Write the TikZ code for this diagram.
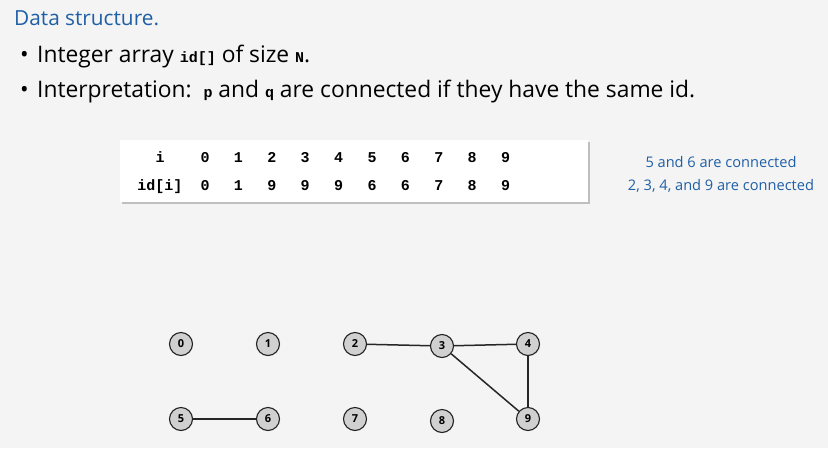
\documentclass[tikz,border=0pt]{standalone}
\usepackage{fontspec}
\setmainfont{Open Sans}
\setmonofont{Liberation Mono}
\usetikzlibrary{shadows,positioning}

\begin{document}
\begin{tikzpicture}[
    x=1pt, y=-1pt,
    every node/.style={inner sep=0pt},
  ]
    \definecolor{pagebg}{HTML}{F4F4F4}
    \definecolor{noteblue}{HTML}{1F5FA6}
    \definecolor{siteedge}{HTML}{222222}
    \definecolor{sitefill}{HTML}{D0D0D0}
    \tikzset{
      site/.style={circle, draw=siteedge, fill=sitefill, line width=1.1pt,
        minimum size=23pt, font=\bfseries\fontsize{11}{11}\selectfont},
      link/.style={line width=1.5pt, black!85},
      cell/.style={anchor=base, font=\ttfamily\bfseries\fontsize{15}{15}\selectfont},
      note/.style={anchor=base, text=noteblue, font=\fontsize{14.6}{16}\selectfont},
    }

    \fill[pagebg] (0,0) rectangle (828,448);
    \useasboundingbox (0,0) rectangle (828,448);

    % -------- heading and bullets --------
    \node[anchor=base west, text=noteblue, font=\fontsize{20.8}{24}\selectfont]
      (title) at (14,25) {Data structure.};
    \node[anchor=base west, font=\fontsize{22.8}{26}\selectfont] (bulletA) at (20,62)
      {\makebox[17pt][l]{\textbullet}Integer array {\ttfamily\bfseries\fontsize{15}{15}\selectfont id[]} of size {\ttfamily\bfseries\fontsize{15}{15}\selectfont N}.};
    \node[anchor=base west, font=\fontsize{22.8}{26}\selectfont] (bulletB) at (20,97)
      {\makebox[17pt][l]{\textbullet}Interpretation:\ \ {\ttfamily\bfseries\fontsize{15}{15}\selectfont p} and {\ttfamily\bfseries\fontsize{15}{15}\selectfont q} are connected if they have the same id.};

    % -------- id[] table --------
    \node[anchor=north west, fill=white, minimum width=468, minimum height=62,
      drop shadow={shadow xshift=2pt, shadow yshift=-2pt, opacity=0.45}]
      (table) at (120,140) {};
    \node[cell] (head) at (160,162) {i};
    \node[cell] (headid) at (160,190) {id[i]};
    \foreach \v [count=\k from 0] in {0,1,9,9,9,6,6,7,8,9} {
      \node[cell] (idx\k) at (205+33.4*\k,162) {\k};
      \node[cell] (val\k) at (205+33.4*\k,190) {\v};
    }

    \node[note] (noteA) at (721,167) {5 and 6 are connected};
    \node[note] (noteB) at (721,190) {2, 3, 4, and 9 are connected};

    % -------- sites and links --------
    \foreach \n/\px/\py in {0/181/344, 1/268/344, 2/355/344, 3/442/346, 4/528/344,
                            5/181/419, 6/268/419, 7/355/419, 8/442/421, 9/528/419} {
      \node[site] (s\n) at (\px,\py) {\n};
    }
    \draw[link] (s5) -- (s6);
    \draw[link] (s2) -- (s3);
    \draw[link] (s3) -- (s4);
    \draw[link] (s3) -- (s9);
    \draw[link] (s4) -- (s9);
  \end{tikzpicture}
\end{document}
